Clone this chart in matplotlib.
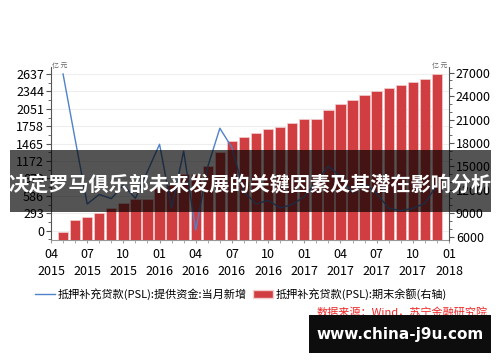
import numpy as np
import matplotlib
matplotlib.use('Agg')
import matplotlib.pyplot as plt
from matplotlib.patches import Rectangle, Patch
from matplotlib.lines import Line2D
from matplotlib.ticker import MultipleLocator

plt.rcParams['font.family'] = ['Noto Sans CJK SC', 'DejaVu Sans']

# data: May 2015 .. Dec 2017, monthly
months = np.arange(1, 33)
psl_new = [2637, 1540, 450, 610, 540, 770, 545, 1000, 1455, 385, 1340, 10,
           1078, 1724, 1400, 657, 450, 510, 385, 440, 573, 825, 1085, 909,
           640, 797, 630, 377, 337, 377, 461, 770]  # 亿元
psl_balance = [6600, 8120, 8520, 9080, 9680, 10330, 10850, 10850, 12280, 12670,
               14000, 14010, 15080, 16780, 18190, 18800, 19235, 19750, 20085,
               20510, 21110, 21110, 22220, 23030, 23500, 24100, 24650, 25000,
               25420, 25770, 26150, 26830]  # 亿元
tick_pos = np.arange(0, 34, 3)
tick_labels = ['04\n2015', '07\n2015', '10\n2015', '01\n2016', '04\n2016', '07\n2016',
               '10\n2016', '01\n2017', '04\n2017', '07\n2017', '10\n2017', '01\n2018']
left_ticks = [0, 293, 586, 879, 1172, 1465, 1758, 2051, 2344, 2637]
right_ticks = [6000, 9000, 12000, 15000, 18000, 21000, 24000, 27000]

line_label = '抵押补充贷款(PSL):提供资金:当月新增'
bar_label = '抵押补充贷款(PSL):期末余额(右轴)'
title = '决定罗马俱乐部未来发展的关键因素及其潜在影响分析'

bar_color = '#d03e42'
line_color = '#4f82c8'
axis_color = '#555555'

fig = plt.figure(figsize=(5, 3.62), dpi=100)
rect = [0.102, 0.337, 0.796, 0.478]
left_lim = (-156, 2755)
right_lim = (5577, 27728)

# base axes: left scale + grid
ax = fig.add_axes(rect)
ax.set_ylim(*left_lim)
ax.set_xlim(0, 33)
ax.set_yticks(left_ticks)
ax.yaxis.set_minor_locator(MultipleLocator(293 / 2))
ax.grid(axis='y', color='#eeeeee', linewidth=0.8)
ax.set_axisbelow(True)

# bars on right scale
ax2 = ax.twinx()
ax2.bar(months, psl_balance, width=0.86, bottom=0, color=bar_color,
        edgecolor='#f3d0d0', linewidth=0.5)
ax2.set_ylim(*right_lim)
ax2.set_yticks(right_ticks)
ax2.yaxis.set_minor_locator(MultipleLocator(1000))

# line on left scale, on top
ax3 = ax.twinx()
ax3.plot(months, psl_new, color=line_color, linewidth=1.0)
ax3.set_ylim(*left_lim)
ax3.set_yticks([])
ax3.set_xlim(0, 33)

for a in (ax, ax2, ax3):
    a.spines['top'].set_visible(False)
ax.spines['right'].set_visible(False)
ax3.spines['right'].set_visible(False)
ax3.spines['left'].set_visible(False)
ax3.spines['bottom'].set_visible(False)
ax2.spines['left'].set_visible(False)
ax2.spines['bottom'].set_visible(False)
ax.spines['left'].set_color(axis_color)
ax.spines['bottom'].set_color('#999999')
ax2.spines['right'].set_color(axis_color)

ax.set_xticks(tick_pos)
ax.set_xticklabels(tick_labels, fontsize=9, linespacing=1.4)
ax.xaxis.set_minor_locator(MultipleLocator(1))
ax.tick_params(axis='x', which='both', length=2.5, color='#999999', pad=3)
ax.tick_params(axis='y', which='major', length=3.5, color=axis_color, labelsize=9, pad=1.5)
ax.tick_params(axis='y', which='minor', length=2, color=axis_color)
ax2.tick_params(axis='y', which='major', length=3.5, color=axis_color, labelsize=9, pad=1.5)
ax2.tick_params(axis='y', which='minor', length=2, color=axis_color)

# unit labels
fig.text(0.104, 1 - 66 / 362, '亿 元', fontsize=5, color='#666666', va='center', ha='left')
fig.text(0.894, 1 - 66 / 362, '亿 元', fontsize=5, color='#666666', va='center', ha='right')

# legend
handles = [Line2D([], [], color=line_color, linewidth=1.0),
           Patch(facecolor=bar_color, edgecolor='#f3d0d0')]
fig.legend(handles, [line_label, bar_label], loc='center', ncol=2,
           bbox_to_anchor=(0.482, 1 - 294 / 362), frameon=False, fontsize=8.0,
           handlelength=1.8, handletextpad=0.3, columnspacing=0.5)

# source note
fig.text(0.976, 1 - 312 / 362, '数据来源：Wind，苏宁金融研究院', fontsize=8,
         color='#f02828', ha='right', va='center', style='italic')

# title band over the chart
fig.patches.append(Rectangle((10 / 500, 1 - 212 / 362), 481 / 500, 62 / 362,
                             transform=fig.transFigure, facecolor='black',
                             alpha=0.67, edgecolor='none', zorder=10))
fig.text(0.5, 1 - 184 / 362, title, fontsize=14.5, fontweight='bold',
         color='white', ha='center', va='center', zorder=11)

# watermark box
fig.patches.append(Rectangle((309 / 500, 1 - 353 / 362), 182 / 500, 38 / 362,
                             transform=fig.transFigure, facecolor='#0d0d0d',
                             edgecolor='none', zorder=10))
fig.text(400 / 500, 1 - 335 / 362, 'www.china-j9u.com', fontsize=11,
         fontweight='bold', color='white', ha='center', va='center',
         family='DejaVu Sans', zorder=11)

fig.savefig('out.png', dpi=100)
